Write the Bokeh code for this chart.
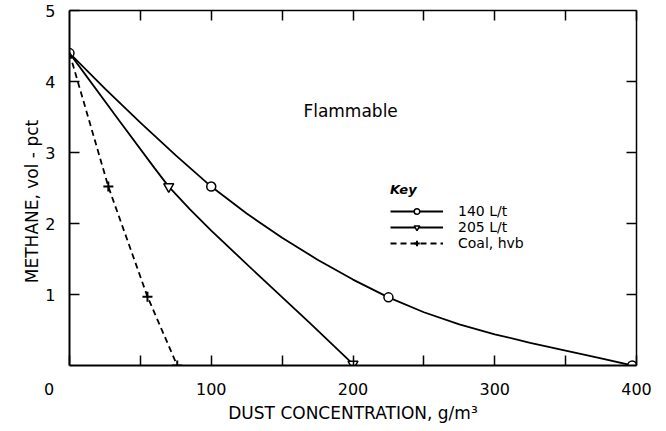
from bokeh.plotting import figure
from bokeh.models import Range1d, LinearAxis, FixedTicker, Legend, LegendItem, Label
from bokeh.embed import file_html
from bokeh.resources import INLINE

# ---- data ----
dust_140 = [0, 25, 50, 75, 100, 125, 150, 175, 200, 225, 250, 275, 300, 325, 350, 375, 397]
methane_140 = [4.4, 3.9, 3.42, 2.96, 2.52, 2.14, 1.80, 1.49, 1.21, 0.96, 0.75, 0.58, 0.44, 0.32, 0.21, 0.10, 0.0]
marked_140 = [True, False, False, False, True, False, False, False, False, True,
              False, False, False, False, False, False, True]

dust_205 = [0, 35, 60, 70, 85, 100, 135, 170, 200]
methane_205 = [4.4, 3.45, 2.78, 2.52, 2.2, 1.9, 1.24, 0.59, 0.02]
marked_205 = [False, False, False, True, False, False, False, False, True]

dust_coal = [0, 27.4, 55, 76]
methane_coal = [4.4, 2.52, 0.97, 0.0]
marked_coal = [False, True, True, True]

x_ticks = [0, 100, 200, 300, 400]
x_tick_labels = ["0", "100", "200", "300", "400"]
x_minor = [50, 150, 250, 350]
y_ticks = [1, 2, 3, 4, 5]
series_names = ["140 L/t", "205 L/t", "Coal, hvb"]

FONT = "DejaVu Sans"
NBSP = "\u00a0"

p = figure(width=660, height=428, x_range=Range1d(0, 400), y_range=Range1d(0, 5),
           output_backend="svg", toolbar_location=None,
           min_border_left=69, min_border_right=24, min_border_top=10, min_border_bottom=63,
           outline_line_color=None, background_fill_color="white", border_fill_color="white")
p.grid.visible = False

xa = p.xaxis[0]
xa.ticker = FixedTicker(ticks=x_ticks, minor_ticks=x_minor)
# the corner "0" sits left of the origin, as in the original figure
overrides = {t: lab for t, lab in zip(x_ticks, x_tick_labels)}
overrides[x_ticks[0]] = x_tick_labels[0] + NBSP * 8
xa.major_label_overrides = overrides
ya = p.yaxis[0]
ya.ticker = FixedTicker(ticks=y_ticks)
for ax in (xa, ya):
    ax.major_tick_in = 10
    ax.major_tick_out = 0
    ax.minor_tick_in = 10
    ax.minor_tick_out = 0
    ax.axis_line_width = 2
    ax.major_tick_line_width = 1.5
    ax.minor_tick_line_width = 1.5
    ax.major_label_text_font = FONT
    ax.major_label_text_font_size = "16px"
    ax.major_label_text_color = "black"
    ax.axis_label_text_font = FONT
    ax.axis_label_text_font_size = "17px"
    ax.axis_label_text_font_style = "normal"
    ax.axis_label_text_color = "black"
xa.major_label_standoff = 14
xa.axis_label = "DUST CONCENTRATION, g/m³"
xa.axis_label_standoff = 1
ya.major_label_standoff = 14
ya.axis_label = "METHANE, vol - pct" + NBSP * 5
ya.axis_label_standoff = 0

top = LinearAxis(ticker=FixedTicker(ticks=x_minor + x_ticks[1:]))
right = LinearAxis(ticker=FixedTicker(ticks=y_ticks[:-1]))
for ax in (top, right):
    ax.major_tick_in = 10
    ax.major_tick_out = 0
    ax.minor_tick_in = 0
    ax.minor_tick_out = 0
    ax.axis_line_width = 1.5
    ax.major_tick_line_width = 1.5
    ax.major_label_text_font_size = "1px"
    ax.major_label_text_color = None
    ax.major_label_standoff = 0
p.add_layout(top, "above")
p.add_layout(right, "right")


def pick(vals, flags):
    return [v for v, f in zip(vals, flags) if f]


l1 = p.line(dust_140, methane_140, line_color="black", line_width=1.8)
m1 = p.scatter(pick(dust_140, marked_140), pick(methane_140, marked_140), marker="circle",
               size=9, fill_color="white", line_color="black", line_width=1.5)
l2 = p.line(dust_205, methane_205, line_color="black", line_width=1.8)
m2 = p.scatter(pick(dust_205, marked_205), pick(methane_205, marked_205), marker="inverted_triangle",
               size=10, fill_color="white", line_color="black", line_width=1.5)
l3 = p.line(dust_coal, methane_coal, line_color="black", line_width=1.8, line_dash="6 4")
m3 = p.scatter(pick(dust_coal, marked_coal), pick(methane_coal, marked_coal), marker="cross",
               size=10, line_color="black", line_width=2)

legend = Legend(items=[LegendItem(label=series_names[0], renderers=[l1, m1]),
                       LegendItem(label=series_names[1], renderers=[l2, m2]),
                       LegendItem(label=series_names[2], renderers=[l3, m3])],
                location=(321, 114), title="Key",
                title_text_font=FONT, title_text_font_size="13px", title_text_font_style="bold italic",
                title_text_color="black", title_standoff=6,
                label_text_font=FONT, label_text_font_size="14px", label_text_color="black",
                glyph_width=53, glyph_height=14, label_height=14, label_standoff=15,
                spacing=0, padding=0, margin=0,
                border_line_color=None, background_fill_alpha=0)
p.add_layout(legend, "center")

p.add_layout(Label(x=165, y=3.58, text="Flammable", text_font=FONT, text_font_size="17px",
                   text_align="left", text_baseline="middle", text_color="black"))

open("out.html", "w").write(file_html(p, INLINE))
